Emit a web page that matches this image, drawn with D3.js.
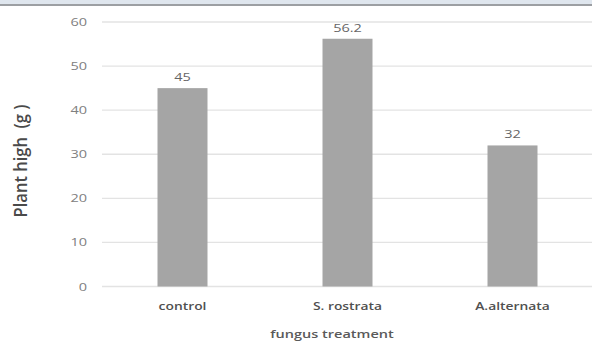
<!DOCTYPE html>
<html><head><meta charset="utf-8">
<script src="https://cdn.jsdelivr.net/npm/d3@7"></script>
<style>body{margin:0;background:#fff}svg{display:block}</style>
</head><body>
<script>
const categories = ["control", "S. rostrata", "A.alternata"];
const values = [45, 56.2, 32];
const yTicks = [0, 10, 20, 30, 40, 50, 60];

const W = 592, H = 341;
const SX = 1.32; // horizontal stretch of the text in the original picture
const svg = d3.select("body").append("svg").attr("width", W).attr("height", H);
svg.append("rect").attr("width", W).attr("height", H).attr("fill", "#fff");
svg.append("rect").attr("x", 0).attr("y", 0).attr("width", W).attr("height", 4).attr("fill", "#dfe6ee");
svg.append("rect").attr("x", 0).attr("y", 4).attr("width", W).attr("height", 2).attr("fill", "#9c9fa3");

const x = d3.scaleBand().domain(categories).range([100, 595]).paddingInner(0.697).paddingOuter(0.3485);
const y = d3.scaleLinear().domain([0, 60]).range([286.5, 22]);

const font = "'Open Sans', 'Noto Sans', sans-serif";
const tr = (px, py) => `translate(${px},${py}) scale(${SX},1)`;

// gridlines
svg.append("g").selectAll("line").data(yTicks).join("line")
  .attr("x1", 102).attr("x2", W).attr("y1", d => y(d)).attr("y2", d => y(d))
  .attr("stroke", "#e3e3e3").attr("stroke-width", 1.3);

// y tick labels
svg.append("g").selectAll("text").data(yTicks).join("text")
  .attr("transform", d => tr(87, y(d) + 4))
  .attr("text-anchor", "end").attr("font-family", font).attr("font-size", 11)
  .attr("fill", "#808080").text(d => d);

// bars
svg.append("g").selectAll("rect").data(values).join("rect")
  .attr("x", (d, i) => x(categories[i])).attr("width", x.bandwidth())
  .attr("y", d => y(d)).attr("height", d => y(0) - y(d))
  .attr("fill", "#a5a5a5");

// value labels
svg.append("g").selectAll("text").data(values).join("text")
  .attr("transform", (d, i) => tr(x(categories[i]) + x.bandwidth() / 2, y(d) - 7))
  .attr("text-anchor", "middle").attr("font-family", font).attr("font-size", 11)
  .attr("fill", "#666").text(d => d);

// category labels
svg.append("g").selectAll("text").data(categories).join("text")
  .attr("transform", d => tr(x(d) + x.bandwidth() / 2, 310))
  .attr("text-anchor", "middle").attr("font-family", font).attr("font-size", 10.5)
  .attr("font-weight", 600).attr("fill", "#505050").text(d => d);

// axis titles
svg.append("text").attr("transform", tr(332, 338))
  .attr("text-anchor", "middle").attr("font-family", font).attr("font-size", 11)
  .attr("font-weight", 600).attr("fill", "#5a5a5a").text("fungus treatment");

svg.append("text").attr("transform", "translate(27,161) rotate(-90) scale(1.18,1.3)")
  .attr("text-anchor", "middle").attr("font-family", font).attr("font-size", 14)
  .attr("font-weight", 600).attr("fill", "#4a4a4a").style("white-space", "pre")
  .text("Plant high  (g )");
</script>
</body></html>
